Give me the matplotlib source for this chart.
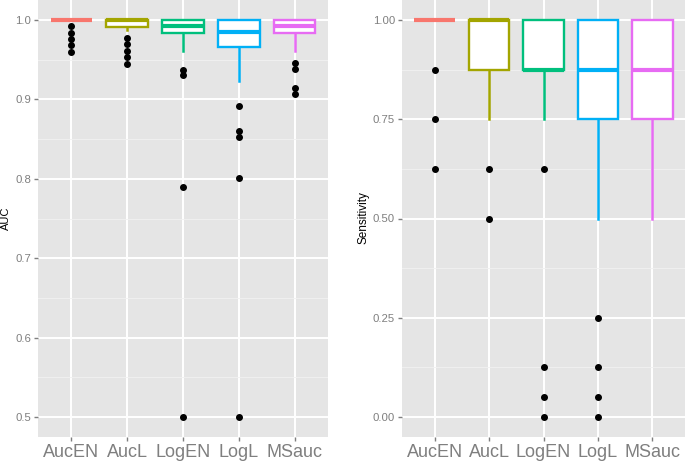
import matplotlib
matplotlib.use("Agg")
import matplotlib.pyplot as plt
from matplotlib.ticker import MultipleLocator

plt.rcParams['font.family'] = ['Liberation Sans', 'DejaVu Sans']

categories = ["AucEN", "AucL", "LogEN", "LogL", "MSauc"]
colors = ["#F8766D", "#A3A500", "#00BF7D", "#00B0F6", "#E76BF3"]

# AUC panel summary stats
auc_q1 = [1.0, 0.991, 0.984, 0.966, 0.984]
auc_med = [1.0, 1.0, 0.992, 0.985, 0.992]
auc_q3 = [1.0, 1.0, 1.0, 1.0, 1.0]
auc_whislo = [1.0, 0.987, 0.961, 0.923, 0.961]
auc_whishi = [1.0, 1.0, 1.0, 1.0, 1.0]
auc_fliers = [
    [0.992, 0.984, 0.976, 0.968, 0.960],
    [0.977, 0.969, 0.961, 0.953, 0.945],
    [0.937, 0.930, 0.790, 0.500],
    [0.891, 0.860, 0.852, 0.801, 0.500],
    [0.946, 0.938, 0.914, 0.907],
]

# Sensitivity panel summary stats
sens_q1 = [1.0, 0.875, 0.875, 0.75, 0.75]
sens_med = [1.0, 1.0, 0.875, 0.875, 0.875]
sens_q3 = [1.0, 1.0, 1.0, 1.0, 1.0]
sens_whislo = [1.0, 0.75, 0.75, 0.5, 0.5]
sens_whishi = [1.0, 1.0, 1.0, 1.0, 1.0]
sens_fliers = [
    [0.875, 0.75, 0.625],
    [0.625, 0.5],
    [0.625, 0.125, 0.05, 0.0],
    [0.25, 0.125, 0.05, 0.0],
    [],
]

auc_ticks = [0.5, 0.6, 0.7, 0.8, 0.9, 1.0]
auc_ticklabels = ["0.5", "0.6", "0.7", "0.8", "0.9", "1.0"]
sens_ticks = [0.0, 0.25, 0.5, 0.75, 1.0]
sens_ticklabels = ["0.00", "0.25", "0.50", "0.75", "1.00"]

W, H = 685, 462
fig = plt.figure(figsize=(W / 100, H / 100), dpi=100)
fig.patch.set_facecolor("white")

ax1 = fig.add_axes([38 / W, 1 - 437 / H, (328 - 38) / W, 437 / H])
ax2 = fig.add_axes([402 / W, 1 - 437 / H, (685 - 402) / W, 437 / H])


def draw(ax, q1, med, q3, lo, hi, fliers, ticks, ticklabels, ylim, minor, ylabel, ylabsize, labelx):
    ax.set_facecolor("#E5E5E5")
    for s in ax.spines.values():
        s.set_visible(False)
    stats = []
    for i in range(len(categories)):
        stats.append(dict(q1=q1[i], med=med[i], q3=q3[i], whislo=lo[i], whishi=hi[i],
                          fliers=fliers[i], label=categories[i]))
    pos = list(range(1, len(categories) + 1))
    bp = ax.bxp(stats, positions=pos, widths=0.75, patch_artist=True, showcaps=False,
                flierprops=dict(marker="o", markerfacecolor="black", markeredgecolor="black",
                                markersize=4.0, linestyle="none"))
    for i, c in enumerate(colors):
        b = bp["boxes"][i]
        b.set_facecolor("white")
        b.set_edgecolor(c)
        b.set_linewidth(1.7)
        b.set_zorder(3)
        bp["medians"][i].set_color(c)
        bp["medians"][i].set_linewidth(3.0)
        bp["medians"][i].set_zorder(4)
        bp["medians"][i].set_solid_capstyle("butt")
        for w in bp["whiskers"][2 * i:2 * i + 2]:
            w.set_color(c)
            w.set_linewidth(1.8)
            w.set_zorder(2)
        bp["fliers"][i].set_zorder(5)
    ax.set_xlim(0.4, 5.6)
    ax.set_ylim(*ylim)
    ax.set_yticks(ticks)
    ax.set_yticklabels(ticklabels)
    ax.yaxis.set_minor_locator(MultipleLocator(minor))
    ax.grid(True, which="major", color="white", linewidth=1.4, zorder=0)
    ax.grid(True, which="minor", axis="y", color="#F2F2F2", linewidth=0.6, zorder=0)
    ax.set_axisbelow(True)
    ax.set_xticks(pos)
    ax.set_xticklabels(categories)
    ax.tick_params(axis="x", which="major", labelsize=13, labelcolor="#7F7F7F",
                   color="#7F7F7F", length=3, width=1, pad=2)
    ax.tick_params(axis="y", which="major", labelsize=8.2, labelcolor="#7F7F7F",
                   color="#7F7F7F", length=3, width=1, pad=2)
    ax.tick_params(axis="y", which="minor", length=0)
    fig.text(labelx, 1 - 218 / H, ylabel, rotation=90, ha="center", va="center",
             fontsize=ylabsize, color="black")


draw(ax1, auc_q1, auc_med, auc_q3, auc_whislo, auc_whishi, auc_fliers,
     auc_ticks, auc_ticklabels, (0.475, 1.025), 0.05, "AUC", 8, 6 / W)
draw(ax2, sens_q1, sens_med, sens_q3, sens_whislo, sens_whishi, sens_fliers,
     sens_ticks, sens_ticklabels, (-0.05, 1.05), 0.125, "Sensitivity", 8.5, 363 / W)

fig.savefig("out.png", dpi=100, facecolor="white")
